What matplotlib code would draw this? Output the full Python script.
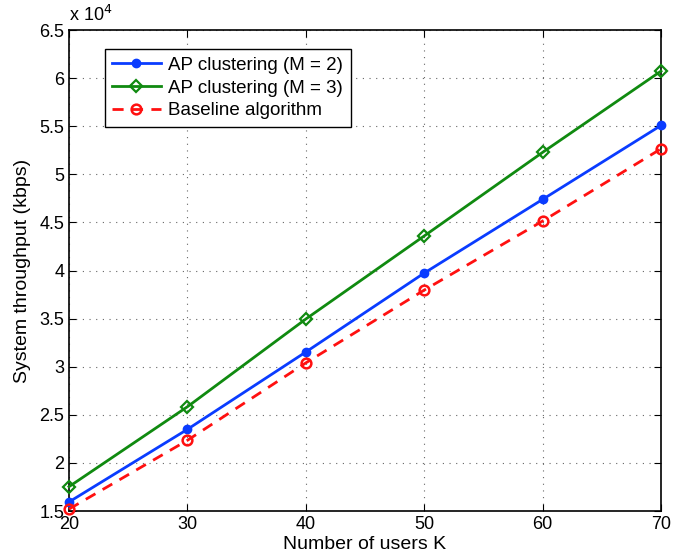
import numpy as np
import matplotlib.pyplot as plt
from matplotlib.ticker import FuncFormatter

plt.rcParams['font.family'] = ['Liberation Sans', 'DejaVu Sans']

# number of users
K = [20, 30, 40, 50, 60, 70]

# system throughput (kbps)
ap_m2 = [15940, 23490, 31530, 39740, 47400, 55090]
ap_m3 = [17530, 25840, 34960, 43600, 52290, 60740]
baseline = [15200, 22350, 30400, 37970, 45150, 52660]

fig = plt.figure(figsize=(6.92, 5.58), dpi=100)
ax = fig.add_axes([0.0997, 0.0842, 0.8555, 0.8618])

ax.plot(K, ap_m2, '-o', color='#0a3cff', lw=2, ms=6, mfc='#0a3cff',
        label='AP clustering (M = 2)', clip_on=False, zorder=3)
ax.plot(K, ap_m3, '-D', color='#108a10', lw=2, ms=6, mfc='none', mew=1.6,
        label='AP clustering (M = 3)', clip_on=False, zorder=3)
ax.plot(K, baseline, '--o', color='#ff1010', lw=2, ms=7, mfc='none', mew=1.8,
        dashes=(4, 3), label='Baseline algorithm', clip_on=False, zorder=3)

ax.set_xlim(20, 70)
ax.set_ylim(15000, 65000)
ax.set_xticks(np.arange(20, 71, 10))
ax.set_yticks(np.arange(15000, 65001, 5000))
ax.yaxis.set_major_formatter(FuncFormatter(lambda v, p: f'{v/1e4:g}'))
ax.tick_params(direction='in', top=True, right=True, labelsize=13, length=5)
ax.grid(True, ls=(0, (1, 5)), color='#666666', lw=0.8)
for s in ax.spines.values():
    s.set_linewidth(1.2)

ax.text(0.0, 1.01, r'x 10$^4$', transform=ax.transAxes, fontsize=13,
        ha='left', va='bottom')

ax.set_xlabel('Number of users K', fontsize=14, labelpad=2)
ax.set_ylabel('System throughput (kbps)', fontsize=14, labelpad=6)

leg = ax.legend(loc='upper left', bbox_to_anchor=(0.06, 0.96), fontsize=13.5,
                frameon=True, fancybox=False, edgecolor='black',
                borderpad=0.4, labelspacing=0.3, handlelength=2.6,
                handletextpad=0.4, borderaxespad=0, framealpha=1)
leg.get_frame().set_linewidth(1.0)

fig.savefig('out.png', dpi=100)
